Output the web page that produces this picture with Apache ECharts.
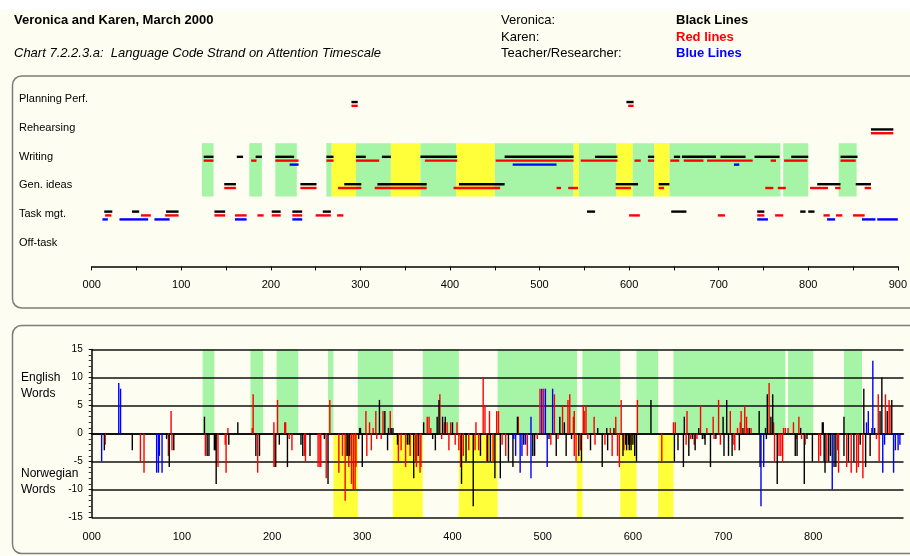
<!DOCTYPE html>
<html><head><meta charset="utf-8">
<script src="https://cdn.jsdelivr.net/npm/echarts/dist/echarts.min.js"></script>
<style>html,body{margin:0;padding:0;background:#fff}#c{width:910px;height:556px}</style>
</head><body><div id="c"></div>
<script>
// ---------- DATA ----------
var rowNames = ['Off-task', 'Task mgt.', 'Gen. ideas', 'Writing', 'Rehearsing', 'Planning Perf.'];
var xTickLabels = ['000','100','200','300','400','500','600','700','800','900'];

// background bands (attention timescale): start, end, kind (g = green, y = yellow)
var bandStart = [123,176,205,262,268,295,334,367,407,450,538,544,586,604,628,645,772,834];
var bandEnd   = [136,190,229,268,295,334,367,407,450,538,544,586,604,628,645,769,800,854];
var bandKind  = ['g','g','g','g','y','g','y','g','y','g','y','g','y','g','y','g','g','g'];

// code strand segments: [row, start, end]
var veronicaSegs = [
 ['Planning Perf.',290,297],['Planning Perf.',597,605],
 ['Rehearsing',870,895],
 ['Writing',125,136],['Writing',162,169],['Writing',183,190],['Writing',205,226],['Writing',262,270],['Writing',295,306],['Writing',324,334],['Writing',367,408],['Writing',461,538],['Writing',562,587],['Writing',621,628],['Writing',650,657],['Writing',659,697],['Writing',702,730],['Writing',740,768],['Writing',781,800],['Writing',836,855],
 ['Gen. ideas',148,161],['Gen. ideas',233,251],['Gen. ideas',282,301],['Gen. ideas',319,374],['Gen. ideas',410,461],['Gen. ideas',585,610],['Gen. ideas',633,645],['Gen. ideas',810,836],['Gen. ideas',853,870],
 ['Task mgt.',14,23],['Task mgt.',45,53],['Task mgt.',83,97],['Task mgt.',137,149],['Task mgt.',201,211],['Task mgt.',224,235],['Task mgt.',258,267],['Task mgt.',553,562],['Task mgt.',647,664],['Task mgt.',743,751],['Task mgt.',791,797],['Task mgt.',800,807]
];
var karenSegs = [
 ['Planning Perf.',290,297],['Planning Perf.',599,605],
 ['Rehearsing',870,895],
 ['Writing',125,136],['Writing',178,184],['Writing',205,231],['Writing',262,270],['Writing',295,321],['Writing',372,408],['Writing',451,538],['Writing',546,587],['Writing',606,613],['Writing',621,628],['Writing',646,656],['Writing',661,683],['Writing',687,738],['Writing',758,764],['Writing',773,799],['Writing',836,853],
 ['Gen. ideas',148,161],['Gen. ideas',233,251],['Gen. ideas',275,301],['Gen. ideas',316,374],['Gen. ideas',404,456],['Gen. ideas',519,524],['Gen. ideas',532,543],['Gen. ideas',585,602],['Gen. ideas',633,639],['Gen. ideas',752,761],['Gen. ideas',766,775],['Gen. ideas',802,822],['Gen. ideas',830,836],['Gen. ideas',863,870],
 ['Task mgt.',15,22],['Task mgt.',55,66],['Task mgt.',82,97],['Task mgt.',137,149],['Task mgt.',160,173],['Task mgt.',185,192],['Task mgt.',201,211],['Task mgt.',224,235],['Task mgt.',250,267],['Task mgt.',274,281],['Task mgt.',600,612],['Task mgt.',699,707],['Task mgt.',743,751],['Task mgt.',763,772],['Task mgt.',817,824],['Task mgt.',831,838],['Task mgt.',850,863]
];
var teacherSegs = [
 ['Writing',221,231],['Writing',470,519],['Writing',717,723],
 ['Task mgt.',12,18],['Task mgt.',31,63],['Task mgt.',70,87],['Task mgt.',160,173],['Task mgt.',224,235],['Task mgt.',743,755],['Task mgt.',821,830],['Task mgt.',860,875],['Task mgt.',877,900]
];

// word counts: [time, words] (positive = English, negative = Norwegian)
var veronicaWords = [[14,-3],[45,-3],[83,-1],[86,-6],[91,-3],[125,3],[128,-4],[130,-4],[136,-3],[137,-3],[138,-9],[152,-2],[162,2],[182,-4],[186,-4],[204,-6],[208,-2],[217,-6],[232,-2],[234,-4],[242,-4],[258,-1],[262,-9],[283,-4],[284,-4],[286,-4],[296,-1],[297,1],[298,1],[300,-6],[319,6],[325,4],[328,-3],[329,1],[332,1],[334,1],[339,-2],[350,-2],[352,-2],[357,-8],[362,-4],[368,2],[378,-1],[381,-3],[383,3],[385,6],[389,3],[392,3],[400,2],[410,-9],[415,-5],[423,-13],[431,-4],[439,-5],[442,-5],[447,-8],[453,-8],[462,-5],[467,-6],[472,3],[479,-2],[489,-4],[491,-4],[507,-1],[515,-4],[519,3],[524,2],[526,-4],[532,-1],[540,-4],[543,-5],[553,-3],[561,1],[566,-6],[571,1],[572,-3],[579,1],[589,-4],[592,-2],[593,-3],[595,-2],[596,-3],[598,-3],[600,-2],[602,-4],[604,-5],[620,6],[646,-5],[650,-3],[656,-6],[657,3],[662,-4],[666,-1],[669,-3],[673,1],[677,-1],[679,-1],[680,-2],[686,-6],[692,-1],[700,3],[701,-4],[704,6],[706,-4],[710,-4],[718,-3],[722,1],[729,1],[740,4],[741,-6],[747,1],[748,-1],[749,7],[753,3],[755,7],[760,-9],[780,-4],[782,-4],[786,1],[790,-9],[793,-1],[799,-5],[810,2],[811,2],[812,-5],[813,-7],[817,-5],[819,-4],[823,-6],[825,-6],[834,3],[834,-4],[839,-5],[845,-5],[852,-2],[856,8],[858,-6],[863,-4],[868,1],[874,4],[876,10],[882,4],[887,6]];
var karenWords = [[15,-2],[54,-5],[58,-7],[85,-4],[88,4],[89,-3],[126,-4],[140,-6],[148,-2],[149,-7],[151,1],[178,1],[179,7],[184,-7],[202,2],[202,-6],[203,-6],[206,6],[214,2],[215,2],[219,-1],[222,-3],[236,-4],[237,-5],[251,-6],[253,-6],[254,-6],[260,-8],[264,6],[274,-7],[278,-4],[281,-12],[285,-6],[288,-9],[290,-10],[292,-10],[293,-6],[304,4],[305,-4],[308,2],[310,-3],[312,1],[315,4],[316,-1],[321,-1],[323,4],[331,4],[340,-5],[343,-3],[348,-6],[353,-4],[359,-5],[360,-6],[364,-7],[365,-6],[372,3],[374,3],[376,1],[386,7],[388,-1],[391,2],[394,2],[396,-3],[398,2],[403,-2],[405,2],[407,-3],[409,-6],[412,-4],[418,-3],[425,-3],[426,2],[429,-3],[434,10],[436,5],[438,-5],[441,4],[445,-5],[449,4],[451,4],[455,-2],[459,-4],[473,3],[483,-4],[494,-1],[497,8],[501,8],[509,-2],[513,7],[517,-1],[522,5],[528,6],[530,7],[534,3],[535,4],[535,-4],[537,-5],[542,-3],[545,5],[546,4],[548,5],[550,-1],[557,3],[558,-2],[569,-2],[575,1],[577,-4],[581,3],[583,-4],[585,-6],[587,6],[590,-3],[597,-2],[605,6],[632,-5],[645,2],[647,2],[659,-2],[660,4],[664,-1],[668,-2],[671,-1],[675,5],[682,1],[689,3],[690,-1],[695,6],[697,-2],[708,4],[712,-2],[713,-3],[716,1],[719,2],[720,4],[724,5],[726,3],[727,1],[731,1],[751,9],[756,2],[757,-5],[762,-4],[764,-4],[766,-5],[767,1],[769,1],[772,1],[778,2],[781,-1],[784,3],[787,-1],[791,-2],[806,-5],[808,-4],[815,-5],[827,-3],[828,-7],[837,-6],[842,-7],[848,-7],[850,-6],[855,-8],[870,-1],[872,7],[873,-5],[880,7],[884,6],[885,5]];
var teacherWords = [[11,-5],[30,9],[32,8],[72,-7],[74,-7],[75,-4],[78,-7],[468,-1],[470,-4],[475,-7],[477,-4],[481,-2],[487,3],[487,-8],[499,8],[503,8],[505,-6],[511,8],[742,-13],[745,-6],[821,-10],[859,2],[861,4],[865,1],[866,13],[877,-7],[879,-2],[889,-7],[891,-3],[894,-3],[896,-2]];

// ---------- RENDER ----------
var FONT = "'Liberation Sans', Arial, sans-serif";
var CREAM = '#fdfdf1';
var GREEN = '#a6f5a6';
var YELLOW = '#ffff3a';
var chart = echarts.init(document.getElementById('c'), null, {renderer: 'canvas'});

function rowIndex(name) { return rowNames.indexOf(name) + 1; }

var bandData = bandStart.map(function (s, i) { return [s, bandEnd[i], bandKind[i] === 'g' ? 1 : 0]; });

function topBands() {
  return {
    type: 'custom', xAxisIndex: 0, yAxisIndex: 0, z: 1, silent: true,
    data: bandData,
    encode: {x: [0, 1]},
    renderItem: function (p, api) {
      var a = api.coord([api.value(0), 4.5]);
      var b = api.coord([api.value(1), 2.55]);
      return {type: 'rect', shape: {x: a[0], y: a[1], width: b[0] - a[0], height: b[1] - a[1]},
        style: {fill: api.value(2) ? GREEN : YELLOW}};
    }
  };
}
function bottomBands() {
  return {
    type: 'custom', xAxisIndex: 1, yAxisIndex: 1, z: -5, silent: true,
    data: bandData,
    encode: {x: [0, 1]},
    renderItem: function (p, api) {
      var g = api.value(2);
      var a = api.coord([api.value(0), g ? 15 : 0]);
      var b = api.coord([api.value(1), g ? 0 : -15]);
      return {type: 'rect', shape: {x: a[0], y: a[1], width: b[0] - a[0], height: b[1] - a[1]},
        style: {fill: g ? GREEN : YELLOW}};
    }
  };
}
function segSeries(name, segs, color, dy) {
  return {
    name: name, type: 'custom', xAxisIndex: 0, yAxisIndex: 0, z: 4, silent: true,
    data: segs.map(function (s) { return [s[1], s[2], rowIndex(s[0])]; }),
    encode: {x: [0, 1], y: 2},
    renderItem: function (p, api) {
      var a = api.coord([api.value(0), api.value(2)]);
      var b = api.coord([api.value(1), api.value(2)]);
      return {type: 'line', shape: {x1: a[0], y1: a[1] + dy, x2: b[0], y2: b[1] + dy},
        style: {stroke: color, lineWidth: 2.4}};
    }
  };
}
function wordSeries(name, data, color) {
  return {
    name: name, type: 'custom', xAxisIndex: 1, yAxisIndex: 1, z: 4, silent: true,
    data: data,
    encode: {x: 0, y: 1},
    renderItem: function (p, api) {
      var a = api.coord([api.value(0), 0]);
      var b = api.coord([api.value(0), api.value(1)]);
      return {type: 'line', shape: {x1: a[0], y1: a[1], x2: b[0], y2: b[1]},
        style: {stroke: color, lineWidth: 1.4}};
    }
  };
}

function txt(text, x, y, opts) {
  opts = opts || {};
  return {type: 'text', z: 20, silent: true, style: {
    text: text, x: x, y: y, fill: opts.color || '#000',
    font: (opts.style || '') + ' ' + (opts.weight || 'normal') + ' ' + (opts.size || 13) + 'px ' + FONT,
    textAlign: 'left', textVerticalAlign: 'middle', align: 'left', verticalAlign: 'middle'
  }};
}

var graphics = [
  {type: 'rect', z: -20, silent: true, shape: {x: 0, y: 0, width: 910, height: 10}, style: {fill: '#ffffff'}},
  {type: 'rect', z: -19, silent: true, shape: {x: 12.5, y: 76, width: 940, height: 232, r: 9}, style: {fill: CREAM, stroke: '#7c7c7c', lineWidth: 1.5}},
  {type: 'rect', z: -19, silent: true, shape: {x: 12.5, y: 325.5, width: 940, height: 228, r: 9}, style: {fill: CREAM, stroke: '#7c7c7c', lineWidth: 1.5}},
  txt('Veronica and Karen, March 2000', 14, 20, {weight: 'bold', size: 13}),
  txt('Chart 7.2.2.3.a:  Language Code Strand on Attention Timescale', 14, 53, {style: 'italic', size: 13}),
  txt('Veronica:', 501, 20),
  txt('Karen:', 501, 37),
  txt('Teacher/Researcher:', 501, 53),
  txt('Black Lines', 676, 20, {weight: 'bold', color: '#000000'}),
  txt('Red lines', 676, 37, {weight: 'bold', color: '#ff0000'}),
  txt('Blue Lines', 676, 53, {weight: 'bold', color: '#0000ff'}),
  txt('English', 21, 378, {size: 12}),
  txt('Words', 21, 394, {size: 12}),
  txt('Norwegian', 21, 474, {size: 12}),
  txt('Words', 21, 490, {size: 12})
];
// row captions of the code-strand panel (text boxes placed beside each strand)
rowNames.forEach(function (n, i) {
  graphics.push(txt(n, 19, 243 - 28.8 * i, {size: 11}));
});

var option = {
  backgroundColor: CREAM,
  animation: false,
  graphic: graphics,
  grid: [
    {left: 91.7, right: 5.6, top: 85.6, bottom: 289.6, show: false},
    {left: 91.7, right: 6.5, top: 349.5, bottom: 38.5, show: false}
  ],
  xAxis: [
    {type: 'value', gridIndex: 0, min: 0, max: 900, interval: 50, offset: 3,
      axisLine: {show: true, lineStyle: {color: '#000', width: 1.5}},
      axisTick: {show: true, length: 4, lineStyle: {color: '#000', width: 1}},
      axisLabel: {color: '#000', fontSize: 11, fontFamily: FONT, margin: 10,
        formatter: function (v) { return v % 100 === 0 ? xTickLabels[v / 100] : ''; }},
      splitLine: {show: false}},
    {type: 'value', gridIndex: 1, min: 0, max: 900, interval: 100,
      axisLine: {show: true, lineStyle: {color: '#000', width: 1.5}},
      axisTick: {show: false},
      axisLabel: {color: '#000', fontSize: 11, fontFamily: FONT, margin: 14,
        formatter: function (v) { return v >= 900 ? '' : xTickLabels[v / 100]; }},
      splitLine: {show: false}}
  ],
  yAxis: [
    {type: 'value', gridIndex: 0, min: 0, max: 6.6, interval: 1,
      axisLine: {show: false}, axisTick: {show: false}, splitLine: {show: false},
      axisLabel: {show: false}},
    {type: 'value', gridIndex: 1, min: -15, max: 15, interval: 5,
      axisLine: {show: true, lineStyle: {color: '#000', width: 1.5}},
      axisTick: {show: true, length: 3, lineStyle: {color: '#000'}},
      minorTick: {show: true, splitNumber: 5, length: 3, lineStyle: {color: '#333'}},
      axisLabel: {color: '#000', fontSize: 10, fontFamily: FONT, margin: 9},
      splitLine: {show: true, lineStyle: {color: '#111', width: 1.5}}}
  ],
  series: [
    topBands(),
    bottomBands(),
    segSeries('Teacher/Researcher', teacherSegs, '#0000ff', 7.8),
    segSeries('Karen', karenSegs, '#ff0000', 3.8),
    segSeries('Veronica', veronicaSegs, '#000000', 0),
    wordSeries('Karen words', karenWords, '#ff0000'),
    wordSeries('Veronica words', veronicaWords, '#000000'),
    wordSeries('Teacher words', teacherWords, '#0000ff')
  ]
};
chart.setOption(option);
</script></body></html>
